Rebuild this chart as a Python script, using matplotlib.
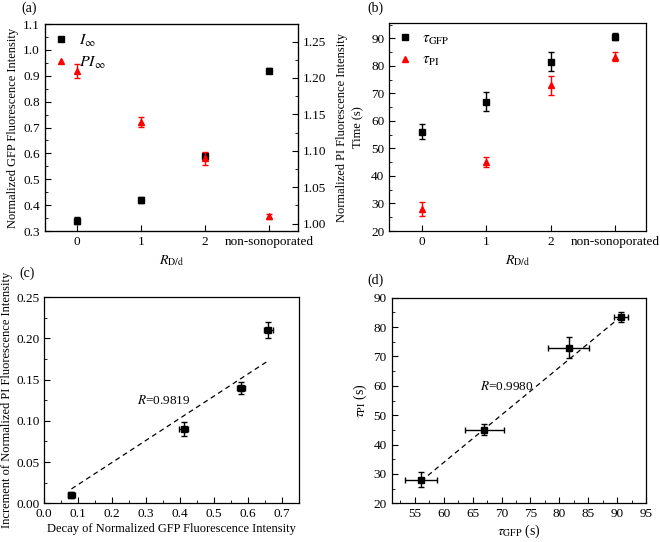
import numpy as np
import matplotlib
matplotlib.use('Agg')
import matplotlib.pyplot as plt
from matplotlib.ticker import MultipleLocator, FormatStrFormatter

plt.rcParams['font.family'] = ['Liberation Serif', 'DejaVu Serif']
plt.rcParams['mathtext.fontset'] = 'stix'
plt.rcParams['font.size'] = 9.5

# data
categories = ['0', '1', '2', 'non-sonoporated']
I_inf = [0.34, 0.42, 0.59, 0.92]
I_err = [0.013, 0.012, 0.012, 0.010]
PI_inf = [1.21, 1.14, 1.09, 1.01]
PI_err = [0.0095, 0.007, 0.009, 0.004]
tau_gfp = [56.1, 67.0, 81.6, 90.6]
tau_gfp_err = [2.8, 3.4, 3.6, 1.2]
tau_pi = [28.0, 45.0, 73.0, 83.4]
tau_pi_err = [2.5, 1.9, 3.5, 1.6]
fit_c = (0.268, -0.004)   # slope, intercept of dashed line in (c)
fit_d = (1.62, -63.3)     # slope, intercept of dashed line in (d)
r_c = '0.9819'
r_d = '0.9980'

RED = '#ff0000'
LABEL_FS = 9


def styleAx(ax):
    ax.tick_params(which='both', direction='in', top=False, right=False)
    ax.tick_params(which='major', length=4)
    ax.tick_params(which='minor', length=2)
    for s in ax.spines.values():
        s.set_linewidth(0.9)


def errPoints(ax, x, y, yerr, marker, color, label, xerr=None):
    ax.errorbar(x, y, yerr=yerr, xerr=xerr, fmt='none', ecolor=color,
                elinewidth=1, capsize=2, capthick=1)
    h, = ax.plot(x, y, marker, color=color, markersize=4, linestyle='none', label=label)
    return h


fig = plt.figure(figsize=(6.6, 5.42), dpi=100)

# (a)
xpos = np.arange(len(categories))
axa = fig.add_axes([0.068, 0.5738, 0.3833, 0.3819])
styleAx(axa)
h1 = errPoints(axa, xpos, I_inf, I_err, 's', 'black', r'$I_\infty$')
axa.set_xlim(-0.5, 3.45)
axa.set_ylim(0.3, 1.1)
axa.set_xticks(xpos)
axa.set_xticklabels(categories)
axa.yaxis.set_major_locator(MultipleLocator(0.1))
axa.yaxis.set_minor_locator(MultipleLocator(0.05))
axa.set_xlabel(r'$R_{\mathrm{D/d}}$', fontsize=10)
axa.set_ylabel('Normalized GFP Fluorescence Intensity', fontsize=LABEL_FS, labelpad=3)
axa2 = axa.twinx()
axa2.tick_params(which='both', direction='in')
axa2.tick_params(which='major', length=4)
axa2.tick_params(which='minor', length=2)
h2 = errPoints(axa2, xpos, PI_inf, PI_err, '^', RED, r'$PI_\infty$')
axa2.set_ylim(0.99, 1.274)
axa2.yaxis.set_major_locator(MultipleLocator(0.05))
axa2.yaxis.set_minor_locator(MultipleLocator(0.025))
axa2.yaxis.set_major_formatter(FormatStrFormatter('%.2f'))
axa2.set_ylabel('Normalized PI Fluorescence Intensity', fontsize=LABEL_FS, labelpad=7)
axa2.legend([h1, h2], [r'$I_\infty$', r'$PI_\infty$'], loc='upper left', frameon=False,
            fontsize=11.5, labelspacing=0.35, handletextpad=0.7, borderaxespad=0.15,
            handlelength=0.9)
fig.text(0.032, 0.997, '(a)', fontsize=10, va='top')

# (b)
axb = fig.add_axes([0.5898, 0.5738, 0.389, 0.3832])
styleAx(axb)
errPoints(axb, xpos, tau_gfp, tau_gfp_err, 's', 'black', r'$\tau_{\mathrm{GFP}}$')
errPoints(axb, xpos, tau_pi, tau_pi_err, '^', RED, r'$\tau_{\mathrm{PI}}$')
axb.set_xlim(-0.5, 3.48)
axb.set_ylim(20, 95.5)
axb.set_xticks(xpos)
axb.set_xticklabels(categories)
axb.yaxis.set_major_locator(MultipleLocator(10))
axb.yaxis.set_minor_locator(MultipleLocator(5))
axb.set_xlabel(r'$R_{\mathrm{D/d}}$', fontsize=10)
axb.set_ylabel('Time (s)', fontsize=LABEL_FS, labelpad=5)
axb.legend(loc='upper left', frameon=False, fontsize=11, labelspacing=0.45,
           handletextpad=0.7, borderaxespad=0.15, handlelength=0.9)
fig.text(0.557, 0.997, '(b)', fontsize=10, va='top')

# (c)
dec = [1 - v for v in I_inf]
inc = [v - 1 for v in PI_inf]
axc = fig.add_axes([0.0671, 0.0714, 0.3859, 0.3806])
styleAx(axc)
errPoints(axc, dec, inc, PI_err, 's', 'black', None, xerr=I_err)
xf = np.array([min(dec), max(dec)])
axc.plot(xf, fit_c[0] * xf + fit_c[1], '--', color='black', lw=0.9, dashes=(4, 3))
axc.text(0.272, 0.124, r'$R$=' + r_c, fontsize=9.5, va='center')
axc.set_xlim(0, 0.75)
axc.set_ylim(0, 0.25)
axc.xaxis.set_major_locator(MultipleLocator(0.1))
axc.xaxis.set_minor_locator(MultipleLocator(0.05))
axc.yaxis.set_major_locator(MultipleLocator(0.05))
axc.yaxis.set_minor_locator(MultipleLocator(0.025))
axc.xaxis.set_major_formatter(FormatStrFormatter('%.1f'))
axc.yaxis.set_major_formatter(FormatStrFormatter('%.2f'))
axc.set_xlabel('Decay of Normalized GFP Fluorescence Intensity', fontsize=LABEL_FS, labelpad=2)
axc.set_ylabel('Increment of Normalized PI Fluorescence Intensity', fontsize=LABEL_FS, labelpad=2)
fig.text(0.03, 0.508, '(c)', fontsize=10, va='top')

# (d)
axd = fig.add_axes([0.5935, 0.0714, 0.3853, 0.3793])
styleAx(axd)
errPoints(axd, tau_gfp, tau_pi, tau_pi_err, 's', 'black', None, xerr=tau_gfp_err)
xf = np.array([min(tau_gfp), max(tau_gfp)])
axd.plot(xf, fit_d[0] * xf + fit_d[1], '--', color='black', lw=0.9, dashes=(4, 3))
axd.text(66.2, 59.9, r'$R$=' + r_d, fontsize=9.5, va='center')
axd.set_xlim(51, 95)
axd.set_ylim(20, 90)
axd.xaxis.set_major_locator(MultipleLocator(5))
axd.xaxis.set_minor_locator(MultipleLocator(2.5))
axd.yaxis.set_major_locator(MultipleLocator(10))
axd.yaxis.set_minor_locator(MultipleLocator(5))
axd.set_xlabel(r'$\tau_{\mathrm{GFP}}$ (s)', fontsize=10, labelpad=2)
axd.set_ylabel(r'$\tau_{\mathrm{PI}}$ (s)', fontsize=10, labelpad=3)
fig.text(0.556, 0.495, '(d)', fontsize=10, va='top')

plt.savefig('out.png', dpi=100)
